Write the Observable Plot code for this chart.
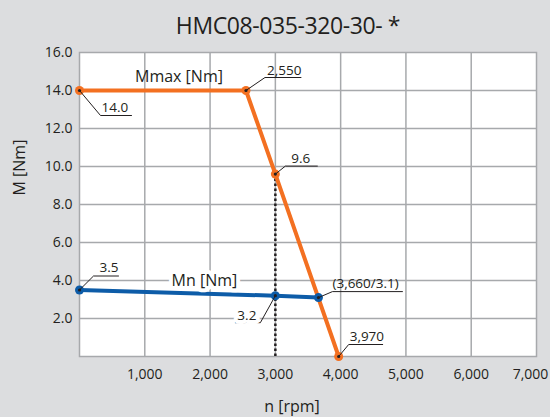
<!DOCTYPE html>
<html>
<head>
<meta charset="utf-8">
<script src="https://cdn.jsdelivr.net/npm/d3@7"></script>
<script src="https://cdn.jsdelivr.net/npm/@observablehq/plot@0.6"></script>
<style>
  html, body { margin: 0; padding: 0; background: #dcdddf; }
  #chart { position: relative; width: 550px; height: 417px; background: #dcdddf;
           font-family: "Open Sans", sans-serif; color: #231f20; overflow: hidden; }
  #title { position: absolute; left: 0; top: 14px; width: 576px; text-align: center;
           font-size: 23px; line-height: 23px; letter-spacing: -0.4px; }
  #plot { position: absolute; left: 0; top: 40px; }
</style>
</head>
<body>
<div id="chart">
  <div id="title"></div>
  <div id="plot"></div>
</div>
<script>
// Motor model
const chartTitle = "HMC08-035-320-30- *";

// Maximum torque curve (Mmax)
const mmaxSpeed = [0, 2550, 3000, 3970];
const mmaxTorque = [14.0, 14.0, 9.6, 0];

// Rated torque curve (Mn)
const mnSpeed = [0, 3000, 3660];
const mnTorque = [3.5, 3.2, 3.1];

// Axes
const xTicks = [1000, 2000, 3000, 4000, 5000, 6000, 7000];
const yTicks = [2, 4, 6, 8, 10, 12, 14, 16];
const xLabel = "n [rpm]";
const yLabel = "M [Nm]";
const mmaxName = "Mmax [Nm]";
const mnName = "Mn [Nm]";

const ORANGE = "#f37021";
const BLUE = "#0d5ca8";
const INK = "#231f20";
const GRID = "#a7a9ac";

const mmaxRows = mmaxSpeed.map((s, i) => ({speed: s, torque: mmaxTorque[i]}));
const mnRows = mnSpeed.map((s, i) => ({speed: s, torque: mnTorque[i]}));

const thousands = d3.format(",");
const oneDecimal = d => d.toFixed(1);

// Callouts: the point they label, plus leader geometry in pixels
const callouts = [
  {row: mmaxRows[0], text: oneDecimal(mmaxRows[0].torque), leader: [[21, 25], [52, 25]], dx: 22, dy: 21, anchor: "start"},
  {row: mmaxRows[1], text: thousands(mmaxRows[1].speed), leader: [[19, -13], [55, -13]], dx: 21, dy: -16, anchor: "start"},
  {row: mmaxRows[2], text: oneDecimal(mmaxRows[2].torque), leader: [[10, -8], [42, -8]], dx: 16, dy: -11, anchor: "start"},
  {row: mmaxRows[3], text: thousands(mmaxRows[3].speed), leader: [[10, -12], [44, -12]], dx: 11, dy: -16, anchor: "start"},
  {row: mnRows[0], text: oneDecimal(mnRows[0].torque), leader: [[14, -14], [39, -14]], dx: 20, dy: -18, anchor: "start"},
  {row: mnRows[1], text: oneDecimal(mnRows[1].torque), leader: [[-15, 27], [-40, 27]], dx: -19, dy: 24, anchor: "end", halo: true},
  {row: mnRows[2], text: `(${thousands(mnRows[2].speed)}/${oneDecimal(mnRows[2].torque)})`, leader: [[14, -6], [84, -6]], dx: 14, dy: -10, anchor: "start"}
];

function leaderShape(points) {
  return {
    draw(context) {
      context.moveTo(0, 0);
      for (const [px, py] of points) context.lineTo(px, py);
    }
  };
}

const calloutMarks = callouts.flatMap(c => [
  Plot.vector([c.row], {
    x: "speed", y: "torque", length: 1, rotate: 0, anchor: "start",
    shape: leaderShape(c.leader), stroke: INK, strokeWidth: 1, fill: "none"
  }),
  Plot.text([c.row], {
    x: "speed", y: "torque", text: () => c.text, dx: c.dx, dy: c.dy,
    textAnchor: c.anchor, lineAnchor: "bottom", fontSize: 13.5, fill: INK,
    ...(c.halo ? {stroke: "white", strokeWidth: 8} : {})
  })
]);

document.getElementById("title").textContent = chartTitle;

const chart = Plot.plot({
  width: 550,
  height: 377,
  marginTop: 12,
  marginBottom: 61,
  marginLeft: 79,
  marginRight: 14,
  style: {fontFamily: "Open Sans, sans-serif", fontSize: "14px", color: INK, background: "transparent"},
  x: {domain: [0, 7000], label: null},
  y: {domain: [0, 16], label: null},
  marks: [
    Plot.frame({fill: "white", stroke: "none"}),
    Plot.gridX(xTicks.slice(0, -1), {stroke: GRID, strokeOpacity: 1, strokeWidth: 1.5}),
    Plot.gridY(yTicks.slice(0, -1), {stroke: GRID, strokeOpacity: 1, strokeWidth: 1.5}),
    Plot.frame({stroke: GRID, strokeWidth: 1.5}),
    Plot.axisX(xTicks.slice(0, -1), {tickSize: 0, tickPadding: 13, tickFormat: thousands, fill: INK}),
    Plot.axisX(xTicks.slice(-1), {tickSize: 0, tickPadding: 13, tickFormat: thousands, dx: -6, fill: INK}),
    Plot.axisY(yTicks, {tickSize: 0, tickPadding: 7, tickFormat: oneDecimal, fill: INK}),
    Plot.text([yLabel], {frameAnchor: "left", text: d => d, rotate: -90, dx: -60, dy: -9, fontSize: 16, fill: INK}),
    Plot.text([xLabel], {frameAnchor: "bottom", text: d => d, dx: -16, dy: 55, lineAnchor: "bottom", fontSize: 16, fill: INK}),
    // vertical marker at the 3,000 rpm operating point
    Plot.ruleX([mmaxRows[2]], {x: "speed", y1: 0, y2: "torque", stroke: INK, strokeWidth: 2.5, strokeDasharray: "2.5,2.5"}),
    Plot.line(mnRows, {x: "speed", y: "torque", stroke: BLUE, strokeWidth: 4}),
    Plot.line(mmaxRows, {x: "speed", y: "torque", stroke: ORANGE, strokeWidth: 4}),
    Plot.text([mmaxName], {x: 850, y: 14, text: d => d, dy: -9, textAnchor: "start", lineAnchor: "bottom", fontSize: 16, fill: INK}),
    Plot.text([mnName], {x: 1410, y: 3.72, text: d => d, textAnchor: "start", lineAnchor: "bottom", fontSize: 16, fill: INK, stroke: "white", strokeWidth: 8}),
    Plot.dot(mmaxRows, {x: "speed", y: "torque", r: 4.5, fill: ORANGE}),
    Plot.dot(mnRows, {x: "speed", y: "torque", r: 4.5, fill: BLUE}),
    ...calloutMarks,
    Plot.dot([...mmaxRows, ...mnRows], {x: "speed", y: "torque", r: 1.6, fill: INK})
  ]
});

document.getElementById("plot").appendChild(chart);
</script>
</body>
</html>
